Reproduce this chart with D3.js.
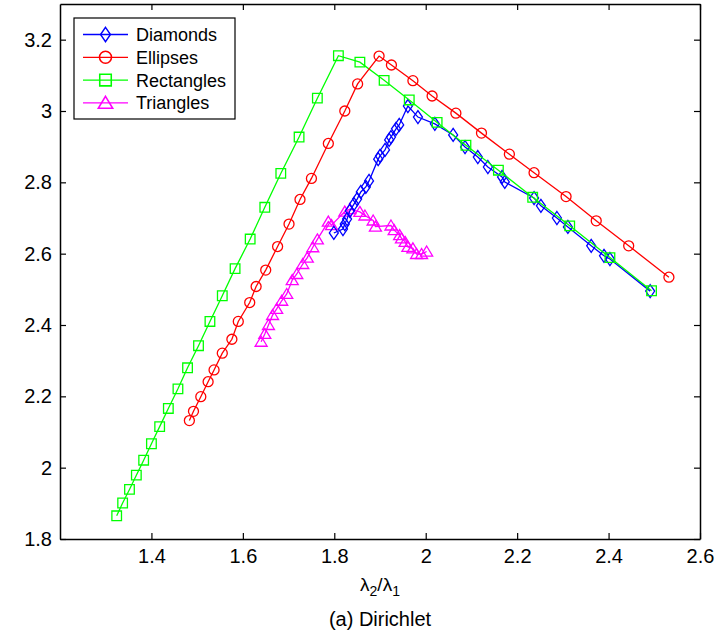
<!DOCTYPE html>
<html>
<head>
<meta charset="utf-8">
<script src="https://cdn.jsdelivr.net/npm/d3@7"></script>
<style>
  body { margin: 0; background: #fff; }
  svg { font-family: "Liberation Sans", Arial, sans-serif; }
</style>
</head>
<body>
<script>
// Data (x = lambda2/lambda1)
var diamondsX = [1.799, 1.819, 1.823, 1.828, 1.834, 1.843, 1.850, 1.858, 1.869, 1.876, 1.896, 1.900, 1.911, 1.920, 1.924, 1.935, 1.942, 1.961, 1.983, 2.020, 2.060, 2.086, 2.114, 2.136, 2.167, 2.173, 2.237, 2.252, 2.287, 2.311, 2.362, 2.390, 2.403, 2.491];
var diamondsY = [2.658, 2.669, 2.683, 2.697, 2.720, 2.739, 2.753, 2.773, 2.787, 2.804, 2.865, 2.874, 2.891, 2.919, 2.927, 2.950, 2.961, 3.014, 2.983, 2.964, 2.933, 2.899, 2.871, 2.843, 2.815, 2.801, 2.756, 2.734, 2.700, 2.675, 2.622, 2.594, 2.585, 2.495];

var ellipsesX = [1.483, 1.492, 1.508, 1.524, 1.537, 1.555, 1.576, 1.590, 1.615, 1.629, 1.650, 1.676, 1.701, 1.725, 1.750, 1.787, 1.823, 1.851, 1.898, 1.925, 1.972, 2.014, 2.066, 2.122, 2.183, 2.237, 2.307, 2.373, 2.444, 2.532];
var ellipsesY = [2.132, 2.158, 2.199, 2.241, 2.274, 2.321, 2.360, 2.410, 2.463, 2.508, 2.554, 2.620, 2.683, 2.752, 2.811, 2.909, 3.000, 3.076, 3.154, 3.129, 3.085, 3.042, 2.994, 2.938, 2.879, 2.827, 2.760, 2.692, 2.622, 2.534];

var rectanglesX = [1.324, 1.337, 1.352, 1.367, 1.383, 1.400, 1.418, 1.437, 1.458, 1.479, 1.503, 1.528, 1.555, 1.583, 1.616, 1.648, 1.683, 1.723, 1.763, 1.809, 1.856, 1.909, 1.964, 2.025, 2.088, 2.159, 2.234, 2.315, 2.403, 2.494];
var rectanglesY = [1.865, 1.901, 1.939, 1.979, 2.021, 2.067, 2.115, 2.166, 2.221, 2.280, 2.342, 2.410, 2.482, 2.558, 2.641, 2.730, 2.825, 2.927, 3.036, 3.155, 3.137, 3.086, 3.031, 2.968, 2.904, 2.834, 2.758, 2.678, 2.589, 2.496];

var trianglesX = [1.640, 1.648, 1.656, 1.665, 1.674, 1.685, 1.696, 1.708, 1.718, 1.731, 1.741, 1.753, 1.763, 1.787, 1.794, 1.823, 1.834, 1.856, 1.867, 1.885, 1.890, 1.924, 1.931, 1.943, 1.947, 1.955, 1.961, 1.972, 1.980, 1.991, 2.002];
var trianglesY = [2.353, 2.375, 2.400, 2.428, 2.445, 2.468, 2.487, 2.526, 2.543, 2.571, 2.589, 2.618, 2.640, 2.690, 2.680, 2.718, 2.725, 2.717, 2.707, 2.693, 2.676, 2.679, 2.666, 2.652, 2.643, 2.633, 2.619, 2.615, 2.599, 2.599, 2.606];

var seriesNames = ["Diamonds", "Ellipses", "Rectangles", "Triangles"];
var seriesColors = ["#0000ff", "#ff0000", "#00ff00", "#ff00ff"];

var xTicks = [1.4, 1.6, 1.8, 2, 2.2, 2.4, 2.6];
var yTicks = [1.8, 2, 2.2, 2.4, 2.6, 2.8, 3, 3.2];

var svgWidth = 718;
var svgHeight = 638;

var margin = { top: 4, right: 18, bottom: 99, left: 60 };
var width = svgWidth - margin.left - margin.right;
var height = svgHeight - margin.top - margin.bottom;

var svg = d3.select("body")
  .append("svg")
  .attr("width", svgWidth)
  .attr("height", svgHeight);

var chartGroup = svg.append("g")
  .attr("transform", `translate(${margin.left}, ${margin.top})`);

var xScale = d3.scaleLinear().domain([1.2, 2.6]).range([0, width]);
var yScale = d3.scaleLinear().domain([1.8, 3.3]).range([height, 0]);

// axes, matlab style: ticks pointing in, box all round
var fmt = d => String(d);
chartGroup.append("g")
  .attr("transform", `translate(0, ${height})`)
  .call(d3.axisBottom(xScale).tickValues(xTicks).tickFormat(fmt).tickSizeInner(-6).tickSizeOuter(0).tickPadding(10));
chartGroup.append("g")
  .call(d3.axisTop(xScale).tickValues(xTicks).tickFormat("").tickSizeInner(-6).tickSizeOuter(0));
chartGroup.append("g")
  .call(d3.axisLeft(yScale).tickValues(yTicks).tickFormat(fmt).tickSizeInner(-6).tickSizeOuter(0).tickPadding(8));
chartGroup.append("g")
  .attr("transform", `translate(${width}, 0)`)
  .call(d3.axisRight(yScale).tickValues(yTicks).tickFormat("").tickSizeInner(-6).tickSizeOuter(0));

chartGroup.selectAll(".domain").attr("stroke", "#000").attr("stroke-width", 1.5);
chartGroup.selectAll(".tick line").attr("stroke", "#000").attr("stroke-width", 1.2);
chartGroup.selectAll(".tick text")
  .attr("fill", "#000")
  .style("font-size", "20px")
  .style("font-family", "'Liberation Sans', Arial, sans-serif");

// marker shapes
function markerPath(kind) {
  if (kind === 0) return "M0,-6.5L4.5,0L0,6.5L-4.5,0Z";
  if (kind === 1) return d3.symbol().type(d3.symbolCircle).size(Math.PI * 25)();
  if (kind === 2) return "M-4.8,-4.8H4.8V4.8H-4.8Z";
  return "M0,-5.5L6,4.5L-6,4.5Z";
}

var allX = [diamondsX, ellipsesX, rectanglesX, trianglesX];
var allY = [diamondsY, ellipsesY, rectanglesY, trianglesY];

var line = d3.line()
  .x(d => xScale(d[0]))
  .y(d => yScale(d[1]));

// draw order: triangles, diamonds, rectangles, ellipses
[3, 0, 2, 1].forEach(function (i) {
  var pts = allX[i].map((x, j) => [x, allY[i][j]]);
  var g = chartGroup.append("g");
  g.append("path")
    .datum(pts)
    .attr("d", line)
    .attr("fill", "none")
    .attr("stroke", seriesColors[i])
    .attr("stroke-width", 1.3);
  g.selectAll("path.mk")
    .data(pts)
    .enter()
    .append("path")
    .attr("class", "mk")
    .attr("d", markerPath(i))
    .attr("transform", d => `translate(${xScale(d[0])}, ${yScale(d[1])})`)
    .attr("fill", "none")
    .attr("stroke", seriesColors[i])
    .attr("stroke-width", 1.3);
});

// legend
var legend = chartGroup.append("g").attr("transform", "translate(14, 14)");
legend.append("rect")
  .attr("width", 161)
  .attr("height", 101)
  .attr("fill", "#fff")
  .attr("stroke", "#000")
  .attr("stroke-width", 1.2);

seriesNames.forEach(function (name, i) {
  var y = 16.5 + i * 22.8;
  legend.append("line")
    .attr("x1", 9).attr("x2", 54)
    .attr("y1", y).attr("y2", y)
    .attr("stroke", seriesColors[i])
    .attr("stroke-width", 1.3);
  legend.append("path")
    .attr("d", markerPath(i))
    .attr("transform", i === 0 ? `translate(31.5, ${y}) scale(1.1)` : `translate(31.5, ${y}) scale(1.2)`)
    .attr("fill", "none")
    .attr("stroke", seriesColors[i])
    .attr("stroke-width", 1.3);
  legend.append("text")
    .attr("x", 62)
    .attr("y", y + 6.5)
    .style("font-size", "18px")
    .attr("fill", "#000")
    .text(name);
});

// x label with subscripts
var xLabel = chartGroup.append("text")
  .attr("x", width / 2)
  .attr("y", height + 52)
  .attr("text-anchor", "middle")
  .style("font-size", "19px")
  .attr("fill", "#000");
xLabel.append("tspan").text("λ");
xLabel.append("tspan").attr("dy", 5).style("font-size", "14px").text("2");
xLabel.append("tspan").attr("dy", -5).text("/λ");
xLabel.append("tspan").attr("dy", 5).style("font-size", "14px").text("1");

chartGroup.append("text")
  .attr("x", width / 2)
  .attr("y", height + 87)
  .attr("text-anchor", "middle")
  .style("font-size", "20px")
  .attr("fill", "#000")
  .text("(a) Dirichlet");
</script>
</body>
</html>
